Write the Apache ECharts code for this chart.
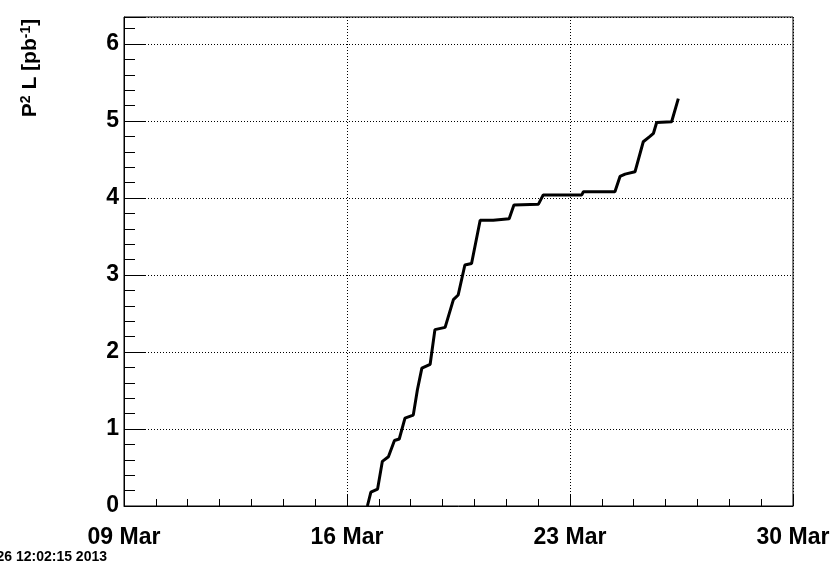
<!DOCTYPE html>
<html>
<head>
<meta charset="utf-8">
<script src="https://cdn.jsdelivr.net/npm/echarts@6/dist/echarts.min.js"></script>
<style>
html,body{margin:0;padding:0;background:#fff;}
#c{width:837px;height:571px;}
</style>
</head>
<body>
<div id="c"></div>
<script>
// Days since 09 Mar 2013 00:00
var days = [7.64, 7.75, 7.96, 8.11, 8.30, 8.49, 8.64, 8.82, 9.08, 9.21, 9.35, 9.61, 9.76, 10.08, 10.34, 10.49, 10.70, 10.91, 11.18, 11.59, 12.09, 12.24, 13.01, 13.16, 14.37, 14.42, 15.41, 15.57, 15.73, 16.04, 16.30, 16.51, 16.62, 16.72, 17.19, 17.40];
// Integrated luminosity P^2 L [pb^-1]
var lumi = [0.00, 0.18, 0.22, 0.58, 0.64, 0.85, 0.87, 1.14, 1.18, 1.51, 1.79, 1.84, 2.29, 2.32, 2.68, 2.74, 3.13, 3.15, 3.71, 3.71, 3.73, 3.91, 3.92, 4.04, 4.04, 4.08, 4.08, 4.28, 4.31, 4.34, 4.73, 4.80, 4.84, 4.98, 4.99, 5.29];
var xTickLabels = ['09 Mar', '16 Mar', '23 Mar', '30 Mar'];
var yMax = 6.35;
var stamp = 'Tue Mar 26 12:02:15 2013';

var chart = echarts.init(document.getElementById('c'));
var pts = days.map(function (d, i) { return [d, lumi[i]]; });
var FONT = '"Liberation Sans", Arial, Helvetica, sans-serif';
var dotted = { color: '#000', width: 1, type: [1, 2] };

chart.setOption({
  animation: false,
  backgroundColor: '#fff',
  grid: { left: 124, right: 44, top: 17, bottom: 65, show: true, borderColor: '#000', borderWidth: 1, backgroundColor: 'transparent' },
  xAxis: {
    type: 'value', min: 0, max: 21, interval: 7,
    axisLine: { lineStyle: { color: '#000', width: 1 } },
    axisTick: { inside: true, length: 11, lineStyle: { color: '#000' } },
    minorTick: { show: true, splitNumber: 7, length: 7, lineStyle: { color: '#000' } },
    splitLine: { show: true, lineStyle: dotted },
    axisLabel: {
      margin: 20, fontFamily: FONT, fontWeight: 'bold', fontSize: 23, color: '#000',
      formatter: function (v) { return xTickLabels[Math.round(v / 7)] || ''; }
    }
  },
  yAxis: [{
    type: 'value', min: 0, max: yMax, interval: 1, position: 'left',
    axisLine: { show: true, lineStyle: { color: '#000', width: 1 } },
    axisTick: { inside: true, length: 22, lineStyle: { color: '#000' } },
    splitLine: { show: true, lineStyle: dotted },
    axisLabel: {
      margin: 5, fontFamily: FONT, fontWeight: 'bold', fontSize: 23, color: '#000',
      formatter: function (v) { return Math.abs(v - Math.round(v)) < 1e-6 ? String(Math.round(v)) : ''; }
    }
  }, {
    type: 'value', min: 0, max: yMax, interval: 0.2, position: 'left',
    axisLine: { show: false },
    axisTick: { show: true, inside: true, length: 11, lineStyle: { color: '#000' } },
    splitLine: { show: false },
    axisLabel: { show: false }
  }],
  series: [{
    type: 'line', yAxisIndex: 0, data: pts, showSymbol: false,
    lineStyle: { color: '#000', width: 3 }, z: 5
  }],
  graphic: [{
    type: 'text', x: 30, y: 68, rotation: Math.PI / 2,
    style: {
      text: '{b|P}{s|2}{b| L [pb}{s|-1}{b|]}',
      align: 'center', verticalAlign: 'middle',
      rich: {
        b: { fontFamily: FONT, fontWeight: 'bold', fontSize: 21, fill: '#000', verticalAlign: 'bottom' },
        s: { fontFamily: FONT, fontWeight: 'bold', fontSize: 14, fill: '#000', verticalAlign: 'top' }
      }
    }
  }, {
    type: 'text', x: 107, y: 557,
    style: {
      text: stamp, align: 'right', verticalAlign: 'middle',
      fontFamily: FONT, fontWeight: 'bold', fontSize: 14, fill: '#000'
    }
  }]
});
</script>
</body>
</html>
